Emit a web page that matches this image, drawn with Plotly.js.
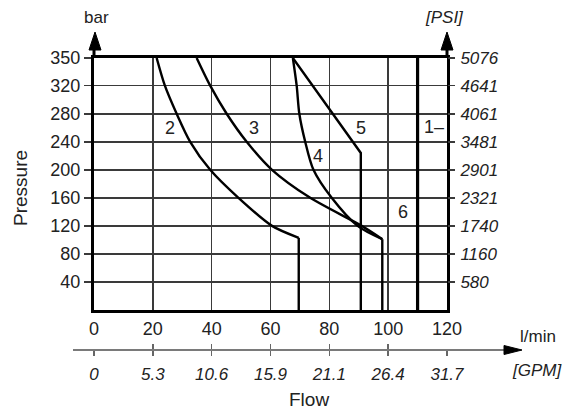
<!DOCTYPE html>
<html>
<head>
<meta charset="utf-8">
<script src="https://cdn.plot.ly/plotly-3.0.1.min.js"></script>
<style>html,body{margin:0;padding:0;background:#fff;}#chart{width:571px;height:410px;}</style>
</head>
<body>
<div id="chart"></div>
<script>
// ---- data (flow in l/min, pressure in bar) ----
const flowTicks = [0, 20, 40, 60, 80, 100, 120];
const gpmLabels = ['0', '5.3', '10.6', '15.9', '21.1', '26.4', '31.7'];
const barTicks = [40, 80, 120, 160, 200, 240, 280, 320, 350];
const psiLabels = ['580', '1160', '1740', '2321', '2901', '3481', '4061', '4641', '5076'];

const c1Flow = [110, 110];
const c1Bar  = [0, 350];
const c2Flow = [21.3, 24.1, 28.1, 32.7, 39.5, 49.1, 60.5, 69.6, 69.6];
const c2Bar  = [350, 320, 280, 240, 200, 160, 120, 103, 0];
const c3Flow = [34.9, 39.5, 45.1, 51.9, 60.5, 73.5, 91, 98, 98];
const c3Bar  = [350, 320, 280, 240, 200, 160, 120, 101, 0];
const c4Flow = [67.6, 68.9, 69.8, 71.8, 74.6, 80.8, 89.6, 98];
const c4Bar  = [350, 320, 280, 240, 200, 160, 120, 101];
const c5Flow = [67.6, 90.7, 90.7];
const c5Bar  = [350, 224, 0];

const curveNames = ['1', '2', '3', '4', '5', '6'];
const labelFlow  = [115.6, 25.7, 54.4, 76.2, 90.8, 104.9];
const labelBar   = [261, 259, 259, 220, 259, 140];

// The printed scale is linear up to 320 bar; the top line (350) sits a bit higher.
const TOP = 359.5;
function ax(p) { return p <= 320 ? p : 320 + (p - 320) * (TOP - 320) / 30; }
const m = a => a.map(ax);

const FONT = 'Liberation Sans, Arial, sans-serif';
const TXT = '#222';

function seg(x, y, w, shape) {
  return {x: x, y: m(y), type: 'scatter', mode: 'lines', xaxis: 'x', yaxis: 'y',
          line: {color: '#000', width: w, shape: shape, smoothing: 0.8},
          hoverinfo: 'skip', showlegend: false, cliponaxis: false};
}
// smooth part of a curve (all but last point) + straight vertical drop (last two points)
function curveWithDrop(x, y, w) {
  const n = x.length;
  return [seg(x.slice(0, n - 1), y.slice(0, n - 1), w, 'spline'),
          seg(x.slice(n - 2), y.slice(n - 2), w, 'linear')];
}

const traces = [
  seg(c1Flow, c1Bar, 3.2, 'linear'),
  ...curveWithDrop(c2Flow, c2Bar, 2.4),
  ...curveWithDrop(c3Flow, c3Bar, 2.4),
  seg(c4Flow, c4Bar, 2.4, 'spline'),
  seg(c5Flow, c5Bar, 2.4, 'linear'),
];

// plot area: x 94..447 px, y 58..350 px (main grid 58..310)
const W = 353, H = 292;
const px = v => (v - 94) / W;
const py = v => (350 - v) / H;

const annotations = curveNames.map((n, i) => ({
  x: labelFlow[i], y: ax(labelBar[i]), xref: 'x', yref: 'y',
  xanchor: 'center', yanchor: 'middle',
  text: n === '1' ? '1–' : n, showarrow: false,
  font: {family: FONT, size: 18, color: TXT}
}));
function note(text, x, y, size, extra) {
  return Object.assign({x: px(x), y: py(y), xref: 'paper', yref: 'paper', text: text,
    showarrow: false, xanchor: 'center', yanchor: 'middle',
    font: Object.assign({family: FONT, size: size, color: TXT}, extra || {})}, {});
}
annotations.push(
  note('bar', 96, 18, 17),
  note('[PSI]', 444, 17, 17, {style: 'italic'}),
  note('l/min', 538, 336, 17),
  note('[GPM]', 537, 370, 17, {style: 'italic'}),
  Object.assign(note('Flow', 309, 399, 19), {}),
  Object.assign(note('Pressure', 20, 188, 19), {textangle: -90})
);

function tri(tipX, tipY, baseX, baseY, half, vertical) {
  let p;
  if (vertical) {
    p = `M ${px(tipX)} ${py(tipY)} L ${px(baseX - half)} ${py(baseY)} L ${px(baseX + half)} ${py(baseY)} Z`;
  } else {
    p = `M ${px(tipX)} ${py(tipY)} L ${px(baseX)} ${py(baseY - half)} L ${px(baseX)} ${py(baseY + half)} Z`;
  }
  return {type: 'path', xref: 'paper', yref: 'paper', path: p,
          fillcolor: '#000', line: {color: '#000', width: 1}};
}

const shapes = [
  {type: 'line', xref: 'paper', yref: 'paper', x0: px(73), x1: px(506), y0: 0, y1: 0,
   line: {color: '#7a7a7a', width: 2}},
  tri(522, 350, 504, 350, 4.5, false),
  {type: 'line', xref: 'paper', yref: 'paper', x0: 0, x1: 0, y0: py(58), y1: py(48),
   line: {color: '#000', width: 3}},
  tri(95, 32, 95, 50, 6, true),
  {type: 'line', xref: 'paper', yref: 'paper', x0: 1, x1: 1, y0: py(58), y1: py(48),
   line: {color: '#000', width: 3}},
  tri(447, 32, 447, 50, 6, true),
];

const yDomain = [py(310), 1];
const yTickVals = m(barTicks);

const layout = {
  width: 571, height: 410,
  margin: {l: 94, r: 124, t: 58, b: 60, pad: 0},
  paper_bgcolor: '#fff', plot_bgcolor: '#fff',
  font: {family: FONT, size: 18, color: TXT},
  showlegend: false,
  xaxis: {range: [0, 120], domain: [0, 1], anchor: 'y', tickmode: 'array', tickvals: flowTicks,
          ticktext: flowTicks.map(String), ticks: '', showgrid: true, gridcolor: '#3a3a3a', gridwidth: 1.6,
          showline: true, mirror: true, linecolor: '#000', linewidth: 3, zeroline: false,
          tickfont: {family: FONT, size: 18, color: TXT}, ticklabelstandoff: 0, fixedrange: true},
  yaxis: {range: [0, TOP], domain: yDomain, anchor: 'x', tickmode: 'array', tickvals: yTickVals,
          ticktext: barTicks.map(String), ticks: 'outside', ticklen: 7, tickwidth: 1.6, tickcolor: '#3a3a3a',
          showgrid: true, gridcolor: '#3a3a3a', gridwidth: 1.6,
          showline: true, mirror: true, linecolor: '#000', linewidth: 3, zeroline: false,
          tickfont: {family: FONT, size: 18, color: TXT}, ticklabelstandoff: 0, fixedrange: true},
  yaxis2: {range: [0, TOP], domain: yDomain, overlaying: 'y', side: 'right', anchor: 'x',
           tickmode: 'array', tickvals: yTickVals, ticktext: psiLabels, ticks: 'outside', ticklen: 7,
           tickwidth: 1.6, tickcolor: '#3a3a3a', showgrid: false, showline: false, zeroline: false,
           tickfont: {family: FONT, size: 17, color: TXT, style: 'italic'}, ticklabelstandoff: 2, fixedrange: true},
  xaxis2: {range: [0, 120], overlaying: 'x', anchor: 'free', position: 0, side: 'bottom',
           tickmode: 'array', tickvals: flowTicks, ticktext: gpmLabels, ticks: 'outside', ticklen: 5,
           tickwidth: 1.5, tickcolor: '#666', showgrid: false, showline: false, zeroline: false,
           tickfont: {family: FONT, size: 17, color: TXT, style: 'italic'}, ticklabelstandoff: 4, fixedrange: true},
  xaxis3: {range: [0, 120], overlaying: 'x', anchor: 'free', position: 0, side: 'bottom',
           tickmode: 'array', tickvals: flowTicks, ticks: 'inside', ticklen: 6, tickwidth: 1.5,
           tickcolor: '#666', showticklabels: false, showgrid: false, showline: false, zeroline: false, fixedrange: true},
  shapes: shapes,
  annotations: annotations
};

// invisible carriers so the secondary axes are drawn
traces.push({x: flowTicks, y: flowTicks.map(() => 0), xaxis: 'x2', yaxis: 'y2', type: 'scatter', mode: 'markers',
             marker: {opacity: 0}, hoverinfo: 'skip', showlegend: false});
traces.push({x: flowTicks, y: flowTicks.map(() => 0), xaxis: 'x3', yaxis: 'y', type: 'scatter', mode: 'markers',
             marker: {opacity: 0}, hoverinfo: 'skip', showlegend: false});

Plotly.newPlot('chart', traces, layout, {staticPlot: true, displayModeBar: false});
</script>
</body>
</html>
